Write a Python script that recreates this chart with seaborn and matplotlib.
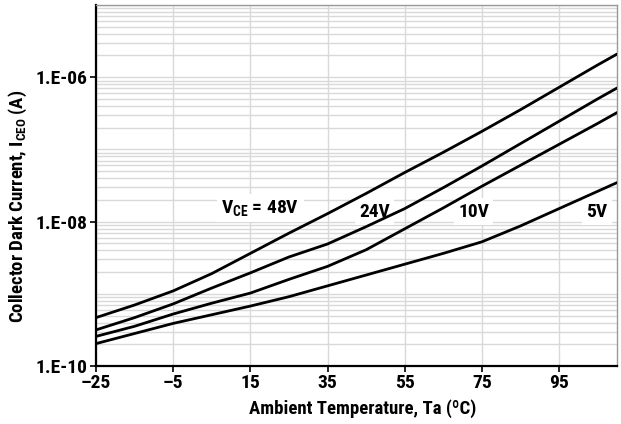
import numpy as np
import pandas as pd
import matplotlib
matplotlib.use("Agg")
import matplotlib.pyplot as plt
from matplotlib import font_manager
from matplotlib.ticker import FixedLocator, LogLocator, NullFormatter
import seaborn as sns

# Collector dark current vs. ambient temperature, one curve per V_CE
temps = [-25, -15, -5, 5, 15, 25, 35, 45, 55, 65, 75, 85, 95, 105, 110]
log_iceo_48v = [-9.33, -9.155, -8.96, -8.72, -8.44, -8.16, -7.89, -7.61, -7.32, -7.04, -6.75, -6.45, -6.14, -5.83, -5.68]
log_iceo_24v = [-9.50, -9.33, -9.14, -8.92, -8.71, -8.49, -8.31, -8.07, -7.82, -7.53, -7.23, -6.92, -6.61, -6.30, -6.15]
log_iceo_10v = [-9.59, -9.45, -9.28, -9.13, -8.99, -8.80, -8.62, -8.39, -8.10, -7.81, -7.51, -7.22, -6.93, -6.64, -6.49]
log_iceo_5v = [-9.69, -9.55, -9.41, -9.29, -9.17, -9.04, -8.89, -8.74, -8.59, -8.44, -8.28, -8.06, -7.82, -7.58, -7.46]

series_names = ["48V", "24V", "10V", "5V"]
x_ticks = [-25, -5, 15, 35, 55, 75, 95]
x_tick_labels = ["\u201325", "\u20135", "15", "35", "55", "75", "95"]
y_ticks = [1e-10, 1e-8, 1e-6]
y_tick_labels = ["1.E-10", "1.E-08", "1.E-06"]

frames = []
for name, logs in zip(series_names, [log_iceo_48v, log_iceo_24v, log_iceo_10v, log_iceo_5v]):
    frames.append(pd.DataFrame({"Ta": temps, "Iceo": 10.0 ** np.array(logs), "Vce": name}))
df = pd.concat(frames, ignore_index=True)

# Prefer a narrow bold sans face when one is installed
installed = {f.name for f in font_manager.fontManager.ttflist}
narrow = sorted(n for n in installed if ("Narrow" in n or "Condensed" in n))
preferred = ["Liberation Sans Narrow", "Roboto Condensed", "Open Sans Condensed",
             "Noto Sans Condensed", "DejaVu Sans Condensed"]
chosen = [n for n in preferred if n in installed] + narrow
main_font = chosen[0] if chosen else "Roboto"

sns.set_theme(style="white")
plt.rcParams["font.family"] = [main_font, "Roboto", "DejaVu Sans"]
plt.rcParams["font.weight"] = "bold"
plt.rcParams["mathtext.default"] = "regular"
for key in ["text.color", "axes.labelcolor", "xtick.color", "ytick.color"]:
    plt.rcParams[key] = "black"

fig = plt.figure(figsize=(6.21, 4.24), dpi=100)
ax = fig.add_axes([96 / 621, 1 - 366 / 424, (617 - 96) / 621, (366 - 5) / 424])

sns.lineplot(data=df, x="Ta", y="Iceo", hue="Vce", units="Vce", estimator=None,
             palette={n: "black" for n in series_names}, linewidth=2.0,
             legend=False, ax=ax, zorder=5, sort=False)

ax.set_yscale("log")
ax.set_xlim(-25, 110)
ax.set_ylim(1e-10, 1e-5)

ax.xaxis.set_major_locator(FixedLocator(x_ticks))
ax.set_xticklabels(x_tick_labels)
ax.yaxis.set_major_locator(FixedLocator(y_ticks))
ax.set_yticklabels(y_tick_labels)
ax.yaxis.set_minor_locator(LogLocator(base=10, subs=np.arange(1, 10), numticks=20))
ax.yaxis.set_minor_formatter(NullFormatter())

ax.grid(which="major", axis="x", color="#d9d9d9", linewidth=1.0)
ax.grid(which="both", axis="y", color="#d9d9d9", linewidth=1.0)
ax.set_axisbelow(True)

ax.tick_params(which="major", direction="out", length=4, width=1.2, color="black",
               labelsize=14, pad=2, bottom=True, left=True)
ax.tick_params(which="minor", length=0)
for lab in ax.get_xticklabels() + ax.get_yticklabels():
    lab.set_fontweight("bold")

for side in ["left", "bottom"]:
    ax.spines[side].set_color("black")
    ax.spines[side].set_linewidth(1.6)
for side in ["top", "right"]:
    ax.spines[side].set_color("#999999")
    ax.spines[side].set_linewidth(1.0)

ax.set_xlabel("Ambient Temperature, Ta (\u00baC)", fontsize=13.5, fontweight="bold")
ax.set_ylabel("Collector Dark Current, I$_{CEO}$ (A)", fontsize=13.5, fontweight="bold")
ax.yaxis.set_label_coords(-0.128, 0.443)
ax.xaxis.set_label_coords(0.512, -0.093)

box = dict(facecolor="white", edgecolor="none", pad=3)
label_specs = [
    ("V$_{CE}$ = " + series_names[0], 17.6, 10 ** -7.885),
    (series_names[1], 47.1, 10 ** -7.93),
    (series_names[2], 72.9, 10 ** -7.93),
    (series_names[3], 104.8, 10 ** -7.93),
]
for text, x, y in label_specs:
    ax.text(x, y, text, ha="center", va="baseline", fontsize=14, fontweight="bold",
            bbox=box, zorder=3)

fig.savefig("out.png", dpi=100)
